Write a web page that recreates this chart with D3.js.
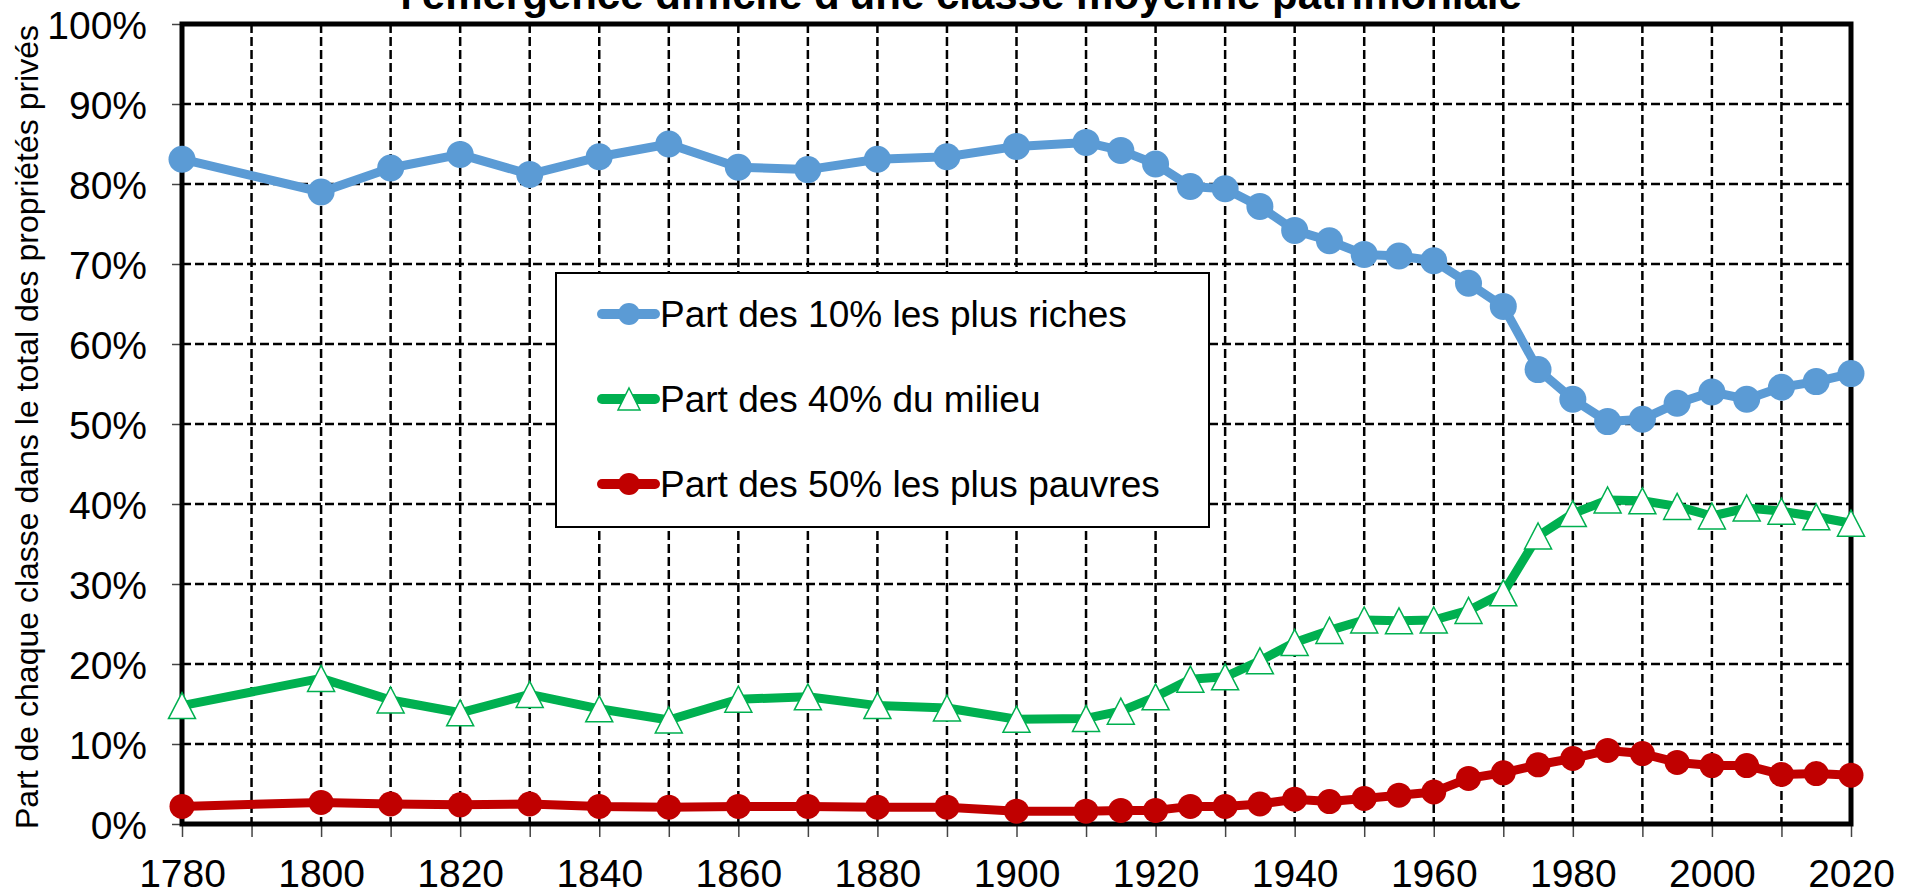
<!DOCTYPE html>
<html>
<head>
<meta charset="utf-8">
<script src="https://cdn.jsdelivr.net/npm/d3@7"></script>
<style>
  html, body { margin: 0; padding: 0; background: #fff; }
  svg { display: block; font-family: "Liberation Sans", Arial, sans-serif; }
</style>
</head>
<body>
<svg id="chart" width="1921" height="896"></svg>
<script>
// années et parts (en %)
const years = [1780, 1800, 1810, 1820, 1830, 1840, 1850, 1860, 1870, 1880, 1890, 1900, 1910,
  1915, 1920, 1925, 1930, 1935, 1940, 1945, 1950, 1955, 1960, 1965, 1970, 1975, 1980,
  1985, 1990, 1995, 2000, 2005, 2010, 2015, 2020];

const top10 = [83.1, 79.0, 82.0, 83.7, 81.2, 83.4, 85.0, 82.1, 81.8, 83.1, 83.4, 84.7, 85.2,
  84.2, 82.5, 79.7, 79.4, 77.2, 74.2, 72.9, 71.2, 71.0, 70.4, 67.6, 64.7, 56.8, 53.1,
  50.3, 50.6, 52.6, 54.0, 53.1, 54.6, 55.3, 56.3];

const middle40 = [14.8, 18.2, 15.5, 13.9, 16.2, 14.4, 13.0, 15.6, 15.9, 14.8, 14.5, 13.1, 13.2,
  14.1, 15.9, 18.1, 18.4, 20.4, 22.7, 24.2, 25.5, 25.4, 25.5, 26.7, 28.9, 36.0, 38.8,
  40.5, 40.4, 39.7, 38.5, 39.5, 39.1, 38.4, 37.6];

const bottom50 = [2.2, 2.7, 2.5, 2.4, 2.5, 2.2, 2.1, 2.2, 2.2, 2.1, 2.1, 1.6, 1.6,
  1.7, 1.7, 2.2, 2.2, 2.5, 3.1, 2.8, 3.2, 3.6, 4.0, 5.7, 6.4, 7.4, 8.2,
  9.2, 8.8, 7.7, 7.3, 7.3, 6.2, 6.3, 6.1];

const seriesNames = ["Part des 10% les plus riches", "Part des 40% du milieu", "Part des 50% les plus pauvres"];
const seriesColors = ["#5B9BD5", "#00B050", "#C00000"];
const yTicks = [0, 10, 20, 30, 40, 50, 60, 70, 80, 90, 100];
const xTicks = d3.range(1780, 2021, 10);

const title = "l'émergence difficile d'une classe moyenne patrimoniale";
const yTitle = "Part de chaque classe dans le total des propriétés privés";

const svg = d3.select("#chart");
const plot = { left: 182, right: 1851, top: 24, bottom: 824 };

const x = d3.scaleLinear().domain([1780, 2020]).range([plot.left, plot.right]);
const y = d3.scaleLinear().domain([0, 100]).range([plot.bottom, plot.top]);

// grille pointillée
const grid = svg.append("g").attr("class", "grid")
  .attr("stroke", "#000").attr("stroke-width", 2.5).attr("stroke-dasharray", "9,4");
grid.selectAll(".hgrid")
  .data(yTicks.filter(d => d > 0 && d < 100))
  .join("line")
  .attr("x1", plot.left).attr("x2", plot.right)
  .attr("y1", d => y(d)).attr("y2", d => y(d));
grid.selectAll(".vgrid")
  .data(xTicks.filter(d => d > 1780 && d < 2020))
  .join("line")
  .attr("y1", plot.top).attr("y2", plot.bottom)
  .attr("x1", d => x(d)).attr("x2", d => x(d));

// axes
const xAxis = svg.append("g")
  .attr("transform", `translate(0,${plot.bottom})`)
  .call(d3.axisBottom(x).tickValues(xTicks).tickSize(13).tickPadding(22)
    .tickFormat(d => d % 20 === 0 ? String(d) : ""));
const yAxis = svg.append("g")
  .attr("transform", `translate(${plot.left},0)`)
  .call(d3.axisLeft(y).tickValues(yTicks).tickSize(10).tickPadding(25)
    .tickFormat(d => d + "%"));

[xAxis, yAxis].forEach(a => {
  a.select(".domain").remove();
  a.selectAll(".tick line").attr("stroke", "#444").attr("stroke-width", 1.5);
  a.selectAll(".tick text")
    .attr("fill", "#000")
    .style("font-family", '"Liberation Sans", Arial, sans-serif')
    .style("font-size", "39px");
});
xAxis.selectAll(".tick text").attr("dy", "0.71em");
yAxis.selectAll(".tick text").attr("dy", "0.36em");

// cadre
svg.append("rect")
  .attr("x", plot.left).attr("y", plot.top)
  .attr("width", plot.right - plot.left).attr("height", plot.bottom - plot.top)
  .attr("fill", "none").attr("stroke", "#000").attr("stroke-width", 5);

// légende
const legend = svg.append("g");
legend.append("rect")
  .attr("x", 556).attr("y", 273).attr("width", 653).attr("height", 254)
  .attr("fill", "#fff").attr("stroke", "#000").attr("stroke-width", 2);

const triangle = (w, h) => `M0,${-h / 2}L${w / 2},${h / 2}L${-w / 2},${h / 2}Z`;

seriesNames.forEach((name, i) => {
  const cy = 314 + i * 85;
  const g = legend.append("g");
  g.append("line")
    .attr("x1", 602).attr("x2", 655).attr("y1", cy).attr("y2", cy)
    .attr("stroke", seriesColors[i]).attr("stroke-width", 10).attr("stroke-linecap", "round");
  if (i === 1) {
    g.append("path").attr("d", triangle(22, 22))
      .attr("transform", `translate(629,${cy})`)
      .attr("fill", "#fff").attr("stroke", seriesColors[i]).attr("stroke-width", 1.5);
  } else {
    g.append("circle").attr("cx", 629).attr("cy", cy).attr("r", 11).attr("fill", seriesColors[i]);
  }
  g.append("text")
    .attr("x", 660).attr("y", cy + 13)
    .style("font-size", "37px").attr("fill", "#000")
    .text(name);
});

// séries
const line = d3.line().x(d => x(d[0])).y(d => y(d[1]));
const allSeries = [top10, middle40, bottom50];

allSeries.forEach((vals, i) => {
  const pts = years.map((yr, k) => [yr, vals[k]]);
  const g = svg.append("g");
  g.append("path")
    .datum(pts)
    .attr("d", line)
    .attr("fill", "none")
    .attr("stroke", seriesColors[i])
    .attr("stroke-width", 9)
    .attr("stroke-linejoin", "round");
  if (i === 1) {
    g.selectAll("path.mk").data(pts).join("path")
      .attr("class", "mk")
      .attr("d", triangle(27, 26))
      .attr("transform", d => `translate(${x(d[0])},${y(d[1])})`)
      .attr("fill", "#fff").attr("stroke", seriesColors[i]).attr("stroke-width", 1.5);
  } else {
    g.selectAll("circle").data(pts).join("circle")
      .attr("cx", d => x(d[0])).attr("cy", d => y(d[1]))
      .attr("r", i === 0 ? 13.5 : 12.5)
      .attr("fill", seriesColors[i]);
  }
});

// titres
svg.append("text")
  .attr("x", 961).attr("y", 9)
  .attr("text-anchor", "middle")
  .style("font-size", "42px").style("font-weight", "bold")
  .text(title);

svg.append("text")
  .attr("transform", `translate(38,${(plot.top + plot.bottom) / 2 + 3}) rotate(-90)`)
  .attr("text-anchor", "middle")
  .style("font-size", "32px")
  .text(yTitle);
</script>
</body>
</html>
